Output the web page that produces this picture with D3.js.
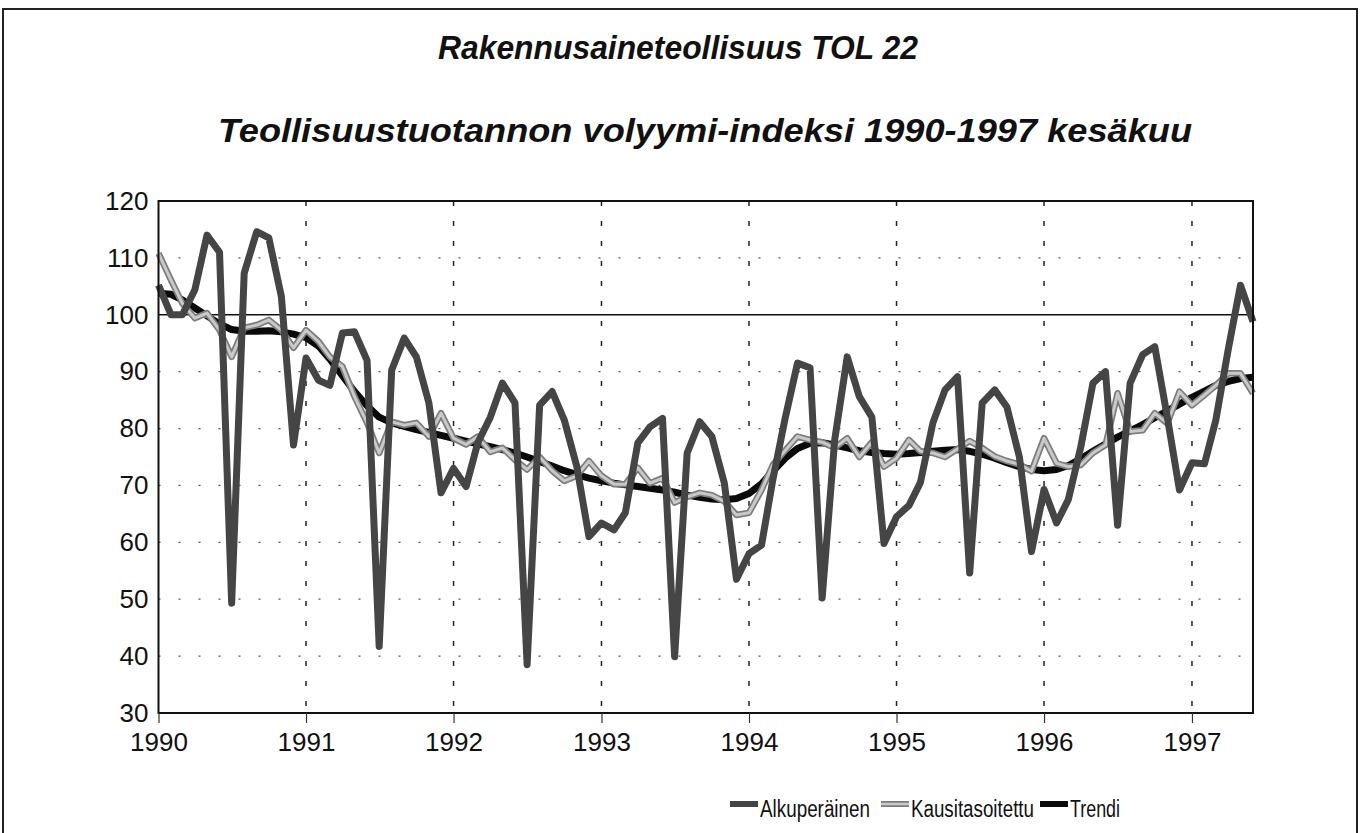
<!DOCTYPE html>
<html>
<head>
<meta charset="utf-8">
<script src="https://cdn.jsdelivr.net/npm/d3@7"></script>
<style>
  body { margin: 0; background: #fff; }
  text { font-family: "Liberation Sans", Arial, sans-serif; fill: #111; }
</style>
</head>
<body>
<div id="chart"></div>
<script>
// chart size
var width = 1361
var height = 833
var margin = { top: 201, right: 108, bottom: 120, left: 158.5 }

// monthly values, Jan 1990 .. Jun 1997
var startYear = 1990
var startMonth = 0
var monthCount = 90

var alkuperainen = [
  105.2, 100, 100, 104.4, 114, 111, 49.3, 107.3, 114.6, 113.5, 103.2, 77.1,
  92.4, 88.5, 87.6, 96.8, 97, 92, 41.7, 90.3, 95.9, 92.6, 84.5, 68.7,
  73, 69.8, 77.5, 82, 88, 84.5, 38.5, 84.1, 86.5, 81.5, 73.3, 61,
  63.4, 62.2, 65.2, 77.5, 80.3, 81.8, 39.9, 75.7, 81.2, 78.6, 70.4, 53.5,
  58, 59.5, 71, 82, 91.5, 90.7, 50.2, 78, 92.6, 85.6, 82, 59.8,
  64.5, 66.5, 70.5, 81, 86.8, 89.1, 54.6, 84.5, 86.8, 83.8, 75, 58.4,
  69.3, 63.4, 67.5, 76.8, 88, 90, 63, 88, 93, 94.4, 82, 69.2,
  74, 73.8, 81.5, 94, 105.2, 98.8
];

var kausitasoitettu = [
  110.8, 106.1, 102, 99.4, 100.3, 97.3, 92.6, 97.7, 98.2, 99.1, 97.3, 94.2,
  97.3, 95.3, 92.6, 90.9, 85.6, 81, 75.7, 81.2, 80.6, 81, 78.6, 82.7,
  78.3, 77.2, 78.6, 75.9, 76.6, 74.5, 72.8, 75, 72.6, 70.8, 71.7, 74.3,
  71.7, 70.2, 70.2, 73.1, 70.4, 71.3, 67, 68, 68.7, 68.3, 67.2, 64.8,
  65.2, 69.2, 73.6, 76.2, 78.6, 78, 77.6, 76.6, 78.3, 75, 77.6, 73.3,
  74.8, 78, 76, 75.7, 75, 76.4, 77.8, 76.6, 75.1, 74.3, 73.7, 72.5,
  78.3, 73.9, 73.3, 73.6, 75.7, 77.1, 86.2, 79.5, 79.7, 82.7, 80.9, 86.5,
  84.1, 85.9, 87.6, 89.7, 89.7, 86.2
];

var trendi = [
  103.8, 103.6, 102.6, 101.2, 99.8, 98.4, 97.4, 97.1, 97.1, 97.2, 97, 96.6,
  96, 94.5, 92.2, 89.3, 86.5, 84, 82, 81, 80.4, 79.8, 79.3, 78.8,
  78.3, 77.8, 77.3, 76.8, 76.3, 75.7, 75, 74.2, 73.4, 72.6, 71.9, 71.3,
  70.8, 70.4, 70.1, 69.8, 69.5, 69.2, 68.8, 68.3, 67.9, 67.6, 67.5, 67.7,
  68.6, 70.3, 72.5, 74.8, 76.5, 77.4, 77.5, 77.1, 76.6, 76.1, 75.8, 75.6,
  75.5, 75.6, 75.8, 76, 76.2, 76.3, 76, 75.5, 74.8, 74, 73.3, 72.8,
  72.6, 72.8, 73.5, 74.7, 76, 77.3, 78.5, 79.6, 80.7, 81.9, 83.1, 84.3,
  85.5, 86.6, 87.6, 88.3, 88.8, 89
];

var yTicks = [30, 40, 50, 60, 70, 80, 90, 100, 110, 120]
var seriesNames = ['Alkuperäinen', 'Kausitasoitettu', 'Trendi']
var title1 = 'Rakennusaineteollisuus TOL 22'
var title2 = 'Teollisuustuotannon volyymi-indeksi 1990-1997 kesäkuu'

var months = d3.range(monthCount).map(function (i) {
  return new Date(startYear, startMonth + i, 1);
});

myshow();
function myshow() {
  var svg = d3.select('#chart')
    .append('svg')
    .attr('width', width)
    .attr('height', height);

  // outer frame
  svg.append('rect')
    .attr('x', 3).attr('y', 9)
    .attr('width', 1354).attr('height', 840)
    .attr('fill', 'none').attr('stroke', '#222').attr('stroke-width', 2);

  // titles (the scan uses a narrow face, so stretch to the measured width)
  svg.append('text')
    .attr('x', 678).attr('y', 59)
    .attr('text-anchor', 'middle')
    .attr('textLength', 480).attr('lengthAdjust', 'spacingAndGlyphs')
    .style('font-size', '33px').style('font-weight', 'bold').style('font-style', 'italic')
    .text(title1);
  svg.append('text')
    .attr('x', 705).attr('y', 142)
    .attr('text-anchor', 'middle')
    .attr('textLength', 974).attr('lengthAdjust', 'spacingAndGlyphs')
    .style('font-size', '34px').style('font-weight', 'bold').style('font-style', 'italic')
    .text(title2);

  var x = d3.scaleTime()
    .domain([months[0], months[months.length - 1]])
    .range([margin.left, width - margin.right]);

  var y = d3.scaleLinear()
    .domain([30, 120])
    .range([height - margin.bottom, margin.top]);

  // horizontal dotted grid
  svg.append('g')
    .selectAll('line')
    .data(yTicks.filter(function (d) { return d > 30 && d < 120 && d != 100; }))
    .enter()
    .append('line')
    .attr('x1', x.range()[0]).attr('x2', x.range()[1])
    .attr('y1', function (d) { return y(d); })
    .attr('y2', function (d) { return y(d); })
    .attr('stroke', '#555').attr('stroke-width', 1.2)
    .attr('stroke-dasharray', '2,18');

  // vertical dashed grid at each year
  var years = d3.timeYear.range(months[0], months[months.length - 1]);
  svg.append('g')
    .selectAll('line')
    .data(years.slice(1))
    .enter()
    .append('line')
    .attr('x1', function (d) { return x(d); })
    .attr('x2', function (d) { return x(d); })
    .attr('y1', y(120)).attr('y2', y(30))
    .attr('stroke', '#222').attr('stroke-width', 1.5)
    .attr('stroke-dasharray', '5,15');

  // 100 reference line
  svg.append('line')
    .attr('x1', x.range()[0]).attr('x2', x.range()[1])
    .attr('y1', y(100)).attr('y2', y(100))
    .attr('stroke', '#111').attr('stroke-width', 1.5);

  // series
  var line = function (values) {
    return d3.line()
      .x(function (d, i) { return x(months[i]); })
      .y(function (d) { return y(d); })(values);
  };

  svg.append('path')
    .attr('d', line(trendi))
    .attr('fill', 'none').attr('stroke', '#0a0a0a').attr('stroke-width', 7)
    .attr('stroke-linejoin', 'round');

  svg.append('path')
    .attr('d', line(kausitasoitettu))
    .attr('fill', 'none').attr('stroke', '#7d7d7d').attr('stroke-width', 6.5)
    .attr('stroke-linejoin', 'round');
  svg.append('path')
    .attr('d', line(kausitasoitettu))
    .attr('fill', 'none').attr('stroke', '#c9c9c9').attr('stroke-width', 3)
    .attr('stroke-linejoin', 'round');

  svg.append('path')
    .attr('d', line(alkuperainen))
    .attr('fill', 'none').attr('stroke', '#454545').attr('stroke-width', 7)
    .attr('stroke-linejoin', 'round');

  // plot frame
  svg.append('rect')
    .attr('x', x.range()[0]).attr('y', y(120))
    .attr('width', x.range()[1] - x.range()[0])
    .attr('height', y(30) - y(120))
    .attr('fill', 'none').attr('stroke', '#111').attr('stroke-width', 2);

  // axes
  var yAxis = svg.append('g')
    .attr('transform', 'translate(' + (x.range()[0] - 8) + ',0)')
    .call(d3.axisLeft(y).tickValues(yTicks).tickSize(0).tickPadding(2));
  yAxis.select('.domain').remove();
  yAxis.selectAll('text').style('font-size', '26px').attr('fill', '#111');

  var xAxis = svg.append('g')
    .attr('transform', 'translate(0,' + y(30) + ')')
    .call(d3.axisBottom(x).ticks(d3.timeYear.every(1)).tickFormat(d3.timeFormat('%Y')).tickSize(10).tickPadding(10));
  xAxis.select('.domain').remove();
  xAxis.selectAll('line').attr('stroke', '#333').attr('stroke-width', 1.2);
  xAxis.selectAll('text').style('font-size', '26px').attr('fill', '#111');

  // legend
  var legendX = [730, 881, 1040]
  var legendTextLen = [110, 123, 50]
  var legendY = 804
  var legend = svg.append('g')
    .selectAll('g')
    .data(seriesNames)
    .enter()
    .append('g')
    .attr('transform', function (d, i) { return 'translate(' + legendX[i] + ',' + legendY + ')'; });

  legend.append('line')
    .attr('x1', 0).attr('x2', 28).attr('y1', 0).attr('y2', 0)
    .attr('stroke', function (d, i) { return ['#454545', '#7d7d7d', '#0a0a0a'][i]; })
    .attr('stroke-width', 6);
  legend.filter(function (d, i) { return i == 1; })
    .append('line')
    .attr('x1', 0).attr('x2', 28).attr('y1', 0).attr('y2', 0)
    .attr('stroke', '#c9c9c9').attr('stroke-width', 2.5);
  legend.append('text')
    .attr('x', 30).attr('y', 13)
    .attr('textLength', function (d, i) { return legendTextLen[i]; })
    .attr('lengthAdjust', 'spacingAndGlyphs')
    .style('font-size', '23px')
    .text(function (d) { return d; });
}
</script>
</body>
</html>
